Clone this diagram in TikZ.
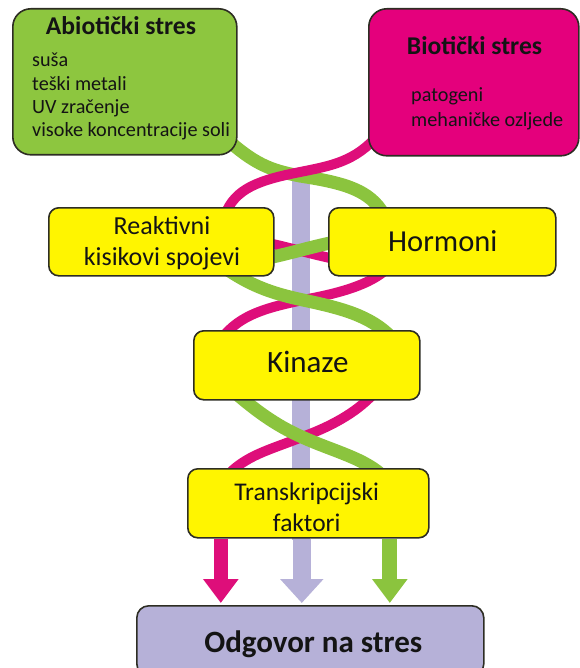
\documentclass[tikz,border=0pt]{standalone}
\usepackage{fontspec}
\setmainfont{Carlito}
\usetikzlibrary{arrows.meta,backgrounds}
\definecolor{cgreen}{RGB}{141,198,63}
\definecolor{sgreen}{RGB}{139,196,62}
\definecolor{cmag}{RGB}{228,0,124}
\definecolor{smag}{RGB}{222,14,122}
\definecolor{cyel}{RGB}{255,245,0}
\definecolor{clav}{RGB}{182,177,216}
\definecolor{cbord}{RGB}{45,45,35}
\definecolor{ctext}{RGB}{20,20,20}
\tikzset{
  box/.style={draw=cbord, line width=1.6pt, rounded corners=#1, inner sep=0pt, anchor=north west},
  ybox/.style={box=10pt, fill=cyel},
  gstrand/.style={draw=sgreen, line width=13pt},
  mstrand/.style={draw=smag, line width=10pt},
  ttl/.style={anchor=base, text=ctext, font=\bfseries\fontsize{25.6}{30}\selectfont, inner sep=0pt},
  lst/.style={anchor=base west, text=ctext, font=\fontsize{20.2}{24}\selectfont, inner sep=0pt},
  mid/.style={anchor=base, text=ctext, font=\fontsize{26}{30}\selectfont, inner sep=0pt},
  big/.style={anchor=base, text=ctext, font=\fontsize{31}{36}\selectfont, inner sep=0pt}
}
\begin{document}
\begin{tikzpicture}[x=1pt,y=-1pt]
\useasboundingbox (0,0) rectangle (579,668);
% boxes
\node[box=18pt, fill=cgreen, minimum width=224pt, minimum height=146pt] (abio) at (12,8) {};
\node[box=18pt, fill=cmag, minimum width=210pt, minimum height=147pt] (bio) at (368,8) {};
\node[ybox, minimum width=225pt, minimum height=68pt] (ros) at (48,207) {};
\node[ybox, minimum width=227pt, minimum height=68pt] (horm) at (328,207) {};
\node[ybox, minimum width=226pt, minimum height=69pt] (kin) at (193,330) {};
\node[ybox, minimum width=241pt, minimum height=69pt] (tf) at (187,468) {};
\node[box=12pt, fill=clav, minimum width=347pt, minimum height=70pt] (og) at (136,605) {};
% texts
\node[ttl] at (121,35) {Abiotički stres};
\node[lst] at (32,67) {suša};
\node[lst] at (32,90.3) {teški metali};
\node[lst] at (32,113.6) {UV zračenje};
\node[lst] at (32,137) {visoke koncentracije soli};
\node[ttl] at (474.5,55) {Biotički stres};
\node[lst] at (411,102) {patogeni};
\node[lst] at (411,127) {mehaničke ozljede};
\node[mid] at (162,234) {Reaktivni};
\node[mid] at (162,265) {kisikovi spojevi};
\node[big, font=\fontsize{30.5}{36}\selectfont] at (442.8,251.7) {Hormoni};
\node[big] at (307.8,372.7) {Kinaze};
\node[mid, font=\fontsize{25.5}{30}\selectfont] at (306.7,500) {Transkripcijski};
\node[mid, font=\fontsize{25.5}{30}\selectfont] at (306.7,531) {faktori};
\node[big, font=\bfseries\fontsize{31}{36}\selectfont] at (313.3,652) {Odgovor na stres};
% strands, bar and arrows behind the boxes
\begin{scope}[on background layer]
  \draw[clav, line width=18pt] (301,178) -- (301,540);
  % top crossing: magenta over green
  \draw[gstrand] (222,135) .. controls (255,165) and (270,170) .. (300,176) .. controls (345,183) and (370,190) .. (384,215);
  \draw[mstrand] (378,135) .. controls (355,162) and (330,166) .. (300,172) .. controls (260,180) and (235,188) .. (225,215);
  % between ROS and hormones: green over magenta
  \draw[mstrand] (258,241) .. controls (290,247) and (312,255) .. (345,261);
  \draw[gstrand] (345,240) .. controls (312,246) and (290,254) .. (258,260);
  % below row 2
  \draw[mstrand] (388,268) .. controls (370,285) and (340,293) .. (303,300) .. controls (265,308) and (240,315) .. (222,338);
  \draw[gstrand] (225,268) .. controls (250,285) and (270,293) .. (303,300) .. controls (340,308) and (370,315) .. (392,338);
  % below kinases
  \draw[mstrand] (377,390) .. controls (360,410) and (335,425) .. (302,437) .. controls (270,450) and (245,455) .. (225,478);
  \draw[gstrand] (232,390) .. controls (255,410) and (275,425) .. (302,437) .. controls (335,452) and (365,458) .. (385,478);
  % arrows to the response
  \draw[smag, line width=14pt, -{Triangle[width=34pt,length=24pt]}] ([xshift=-87.5pt]tf.south) -- ([xshift=-89.5pt,yshift=2pt]og.north);
  \draw[clav, line width=18pt, -{Triangle[width=42pt,length=24pt]}] ([xshift=-6.5pt]tf.south) -- ([xshift=-8.5pt,yshift=2pt]og.north);
  \draw[sgreen, line width=15pt, -{Triangle[width=34pt,length=24pt]}] ([xshift=81.5pt]tf.south) -- ([xshift=79.5pt,yshift=2pt]og.north);
\end{scope}
\end{tikzpicture}
\end{document}
